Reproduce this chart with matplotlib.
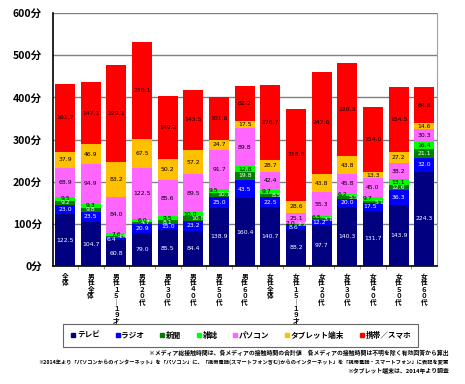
import matplotlib
matplotlib.use("Agg")
import matplotlib.pyplot as plt
from matplotlib.lines import Line2D
import numpy as np

plt.rcParams['font.family'] = ['Noto Sans CJK JP', 'DejaVu Sans']
plt.rcParams['font.weight'] = 'bold'

categories = ['全体', '男性全体', '男性１５｜１９才', '男性２０代', '男性３０代', '男性４０代',
              '男性５０代', '男性６０代', '女性全体', '女性１５｜１９才', '女性２０代',
              '女性３０代', '女性４０代', '女性５０代', '女性６０代']

series = ['テレビ', 'ラジオ', '新聞', '雑誌', 'パソコン', 'タブレット端末', '携帯／スマホ']

tv = [122.5, 104.7, 60.8, 79.0, 85.5, 84.4, 138.9, 160.4, 140.7, 88.2, 97.7, 140.3, 131.7, 143.9, 224.3]
radio = [23.0, 23.5, 6.4, 20.9, 15.0, 23.2, 25.0, 43.5, 22.5, 8.6, 12.2, 20.0, 17.5, 36.3, 32.0]
newspaper = [9.2, 9.8, 4.4, 4.7, 8.1, 10.8, 10.1, 19.8, 8.5, 2.2, 3.1, 5.5, 5.1, 12.6, 21.1]
magazine = [9.5, 9.3, 7.6, 6.0, 9.5, 10.0, 9.5, 12.8, 9.7, 2.0, 6.5, 6.2, 9.7, 13.1, 16.4]
pc = [68.9, 94.9, 84.0, 122.5, 85.6, 89.5, 91.7, 89.8, 42.4, 25.1, 55.3, 45.8, 45.0, 38.2, 30.3]
tablet = [37.9, 46.9, 83.2, 67.5, 50.2, 57.2, 24.7, 17.5, 28.7, 28.6, 43.8, 43.8, 13.3, 27.2, 14.6]
mobile = [161.7, 147.1, 229.3, 230.1, 149.2, 143.5, 101.6, 82.2, 176.7, 218.0, 242.6, 220.3, 154.0, 154.5, 84.8]

values = [tv, radio, newspaper, magazine, pc, tablet, mobile]
colors = ['#000080', '#0000FF', '#008000', '#00FF00', '#FF66FF', '#FFC000', '#FF0000']
label_colors = ['white', 'white', 'white', 'black', 'black', 'black', 'black']

# horizontal nudges for crowded small labels (radio, newspaper, magazine)
nudge = {
    (2, 1): -0.2, (2, 2): 0.22,
    (3, 2): 0.12,
    (5, 2): 0.2, (5, 3): -0.12,
    (6, 2): 0.2, (6, 3): -0.2,
    (8, 2): 0.25, (8, 3): -0.15,
    (9, 1): -0.1, (9, 2): 0.25, (9, 3): -0.2,
    (10, 1): -0.1, (10, 2): 0.25, (10, 3): -0.2,
    (11, 2): 0.25, (11, 3): -0.2,
    (12, 1): -0.1, (12, 2): 0.25, (12, 3): -0.2,
}

fig = plt.figure(figsize=(4.65, 3.84), dpi=100)
ax = fig.add_axes([0.114, 0.307, 0.826, 0.659])

x = np.arange(len(categories))
bottom = np.zeros(len(categories))
for i, (name, vals) in enumerate(zip(series, values)):
    vals = np.array(vals)
    ax.bar(x, vals, 0.78, bottom=bottom, color=colors[i], label=name, zorder=3)
    for j, v in enumerate(vals):
        dx = nudge.get((j, i), 0)
        ax.text(x[j] + dx, bottom[j] + v / 2, f'{v:.1f}', ha='center', va='center',
                fontsize=4.4, color=label_colors[i], zorder=4,
                family=['DejaVu Sans'], fontweight='normal')
    bottom += vals

ax.set_xlim(-0.47, 14.5)
ax.set_ylim(0, 600)
ax.set_yticks(range(0, 601, 100))
ax.set_yticklabels([f'{v}分' for v in range(0, 601, 100)], fontsize=7.5)
ax.yaxis.grid(True, color='#808080', linewidth=1, zorder=0)
ax.tick_params(axis='y', length=0, pad=8)
ax.set_xticks(x)
ax.set_xticklabels(['\n'.join(c) for c in categories], fontsize=4.8, linespacing=0.9,
                   va='top')
ax.set_xticks(x[:-1] + 0.5, minor=True)
ax.tick_params(axis='x', which='major', length=0, pad=5)
ax.tick_params(axis='x', which='minor', length=2, width=0.6, color='#808080')
ax.spines['top'].set_visible(False)
ax.spines['right'].set_color('#A0A0A0')
ax.spines['left'].set_linewidth(1.2)
ax.spines['bottom'].set_linewidth(1.2)

handles = [Line2D([], [], marker='s', linestyle='none', color=c, markersize=3) for c in colors]
leg = fig.legend(handles, series, loc='center', bbox_to_anchor=(0.518, 0.127), ncol=7,
                 fontsize=5.5, frameon=True, fancybox=False, edgecolor='#404040',
                 handletextpad=0.1, columnspacing=1.9, borderpad=0.9, handlelength=0.8)
leg.get_frame().set_linewidth(0.8)

notes = ['※メディア総接触時間は、各メディアの接触時間の合計値　各メディアの接触時間は不明を除く有効回答から算出',
         '※2014年より「パソコンからのインターネット」を「パソコン」に、「携帯電話(スマートフォン含む)からのインターネット」を「携帯電話・スマートフォン」に表記を変更',
         '※タブレット端末は、2014年より調査']
note_sizes = [4.2, 3.75, 4.2]
for k, t in enumerate(notes):
    fig.text(0.965, 0.081 - k * 0.024, t, ha='right', va='center', fontsize=note_sizes[k])

fig.savefig('out.png', dpi=100)
